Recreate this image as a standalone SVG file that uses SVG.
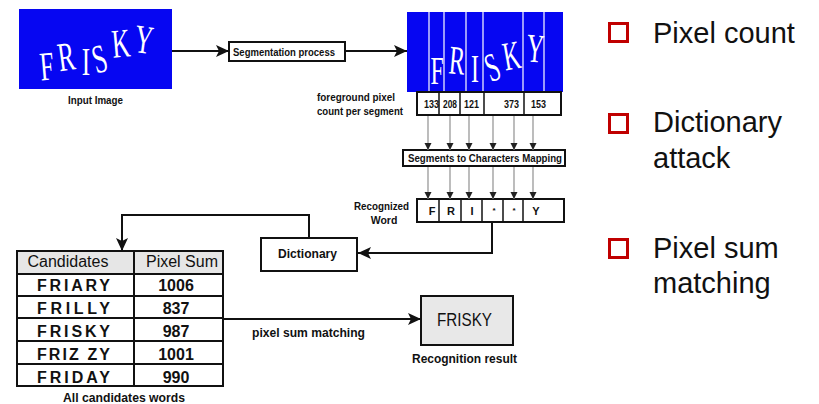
<svg xmlns="http://www.w3.org/2000/svg" width="819" height="404" viewBox="0 0 819 404">
  <style>
    .lbl { font-family: "Liberation Sans Narrow", "Liberation Sans", sans-serif; font-weight: bold; fill: #111; }
    .box { fill: #fff; stroke: #111; stroke-width: 2; }
    .gbox { fill: #e8e8e8; stroke: #111; stroke-width: 2; }
    .img { fill: #0606f2; }
    .hand { font-family: "Liberation Serif", serif; font-size: 28px; fill: #fff; text-anchor: middle; }
    .cell { fill: none; stroke: #111; stroke-width: 2; }
    .word { font-family: "Liberation Sans", sans-serif; font-weight: bold; font-size: 16px; fill: #111; }
    .num { font-family: "Liberation Sans Narrow", "Liberation Sans", sans-serif; font-weight: bold; font-size: 16px; fill: #111; text-anchor: middle; }
    .hdr { font-family: "Liberation Sans", sans-serif; font-size: 16px; fill: #111; text-anchor: middle; }
    .wire { fill: none; stroke: #111; stroke-width: 2; }
    .thin { fill: none; stroke: #999; stroke-width: 1.3; }
    .bul { fill: none; stroke: #c00000; stroke-width: 3; }
    .btxt { font-family: "Liberation Sans", sans-serif; font-size: 29px; fill: #111; }
  </style>
  <defs>
    <marker id="ah" markerUnits="userSpaceOnUse" markerWidth="14" markerHeight="14" viewBox="0 0 14 14" refX="13" refY="7" orient="auto">
      <path d="M0,1 L13,7 L0,13 L3,7 z" fill="#111"/>
    </marker>
    <marker id="as" markerUnits="userSpaceOnUse" markerWidth="8" markerHeight="8" viewBox="0 0 8 8" refX="7" refY="4" orient="auto">
      <path d="M0,0.5 L7,4 L0,7.5 z" fill="#222"/>
    </marker>
  </defs>

  <!-- input captcha image -->
  <g id="input-image">
    <rect class="img" x="19" y="9" width="153" height="80"/>
    <text class="hand" transform="translate(48,80) rotate(-5) scale(0.9,1.45)">F</text>
    <text class="hand" transform="translate(68,70) rotate(-8) scale(0.9,1.45)">R</text>
    <text class="hand" transform="translate(86,75) scale(0.9,1.45)">I</text>
    <text class="hand" transform="translate(103,72) rotate(-15) scale(0.9,1.45)">S</text>
    <text class="hand" transform="translate(122,57) rotate(-5) scale(0.9,1.45)">K</text>
    <text class="hand" transform="translate(142,53) rotate(8) scale(0.9,1.45)">Y</text>
    <text class="lbl" x="68" y="104" font-size="11" textLength="55" lengthAdjust="spacingAndGlyphs">Input Image</text>
  </g>

  <g id="segmentation">
    <rect class="box" x="229" y="42" width="116" height="19"/>
    <text class="lbl" x="233" y="56" font-size="10" textLength="102" lengthAdjust="spacingAndGlyphs">Segmentation process</text>
  </g>

  <!-- segmented image with per-segment counts -->
  <g id="segmented-image">
    <rect class="img" x="407" y="12" width="156" height="80"/>
    <text class="hand" transform="translate(437,84) scale(0.85,1.45)">F</text>
    <text class="hand" transform="translate(456,74) rotate(5) scale(0.85,1.45)">R</text>
    <text class="hand" transform="translate(475,82) scale(0.85,1.45)">I</text>
    <text class="hand" transform="translate(497,80) rotate(-20) scale(0.85,1.45)">S</text>
    <text class="hand" transform="translate(514,69) rotate(-10) scale(0.85,1.45)">K</text>
    <text class="hand" transform="translate(534,62) rotate(5) scale(0.85,1.45)">Y</text>
    <g stroke="#fff" stroke-width="1.2">
      <line x1="429" y1="12" x2="429" y2="92"/>
      <line x1="444" y1="12" x2="444" y2="92"/>
      <line x1="466" y1="12" x2="466" y2="92"/>
      <line x1="483" y1="12" x2="483" y2="92"/>
      <line x1="523" y1="12" x2="523" y2="92"/>
      <line x1="544" y1="12" x2="544" y2="92"/>
    </g>
  </g>

  <g id="pixel-counts">
    <rect class="box" x="417" y="92" width="144" height="23"/>
    <g stroke="#111" stroke-width="1.5">
      <line x1="439" y1="92" x2="439" y2="115"/>
      <line x1="460" y1="92" x2="460" y2="115"/>
      <line x1="484" y1="92" x2="484" y2="115"/>
      <line x1="524" y1="92" x2="524" y2="115"/>
    </g>
    <g class="lbl" font-size="11">
      <text x="424" y="108" textLength="15" lengthAdjust="spacingAndGlyphs">133</text>
      <text x="443" y="108" textLength="14" lengthAdjust="spacingAndGlyphs">208</text>
      <text x="464" y="108" textLength="15" lengthAdjust="spacingAndGlyphs">121</text>
      <text x="504" y="108" textLength="15" lengthAdjust="spacingAndGlyphs">373</text>
      <text x="531" y="108" textLength="15" lengthAdjust="spacingAndGlyphs">153</text>
    </g>
    <text class="lbl" x="317" y="101" font-size="10" textLength="78" lengthAdjust="spacingAndGlyphs">foreground pixel</text>
    <text class="lbl" x="317" y="115" font-size="10" textLength="86" lengthAdjust="spacingAndGlyphs">count per segment</text>
  </g>

  <g id="mapping">
    <rect class="box" x="403" y="150" width="162" height="16"/>
    <text class="lbl" x="408" y="162" font-size="10" textLength="154" lengthAdjust="spacingAndGlyphs">Segments to Characters Mapping</text>
  </g>

  <g id="recognized-word">
    <rect class="box" x="417" y="199" width="147" height="23"/>
    <g stroke="#111" stroke-width="1.5">
      <line x1="439" y1="199" x2="439" y2="222"/>
      <line x1="461" y1="199" x2="461" y2="222"/>
      <line x1="482" y1="199" x2="482" y2="222"/>
      <line x1="503" y1="199" x2="503" y2="222"/>
      <line x1="523" y1="199" x2="523" y2="222"/>
    </g>
    <g class="lbl" font-size="11" text-anchor="middle">
      <text x="432" y="215">F</text>
      <text x="451" y="215">R</text>
      <text x="472" y="215">I</text>
      <text x="494" y="213" font-size="8">*</text>
      <text x="514" y="213" font-size="8">*</text>
      <text x="536" y="215">Y</text>
    </g>
    <text class="lbl" x="409" y="210" font-size="10.5" text-anchor="end" textLength="55" lengthAdjust="spacingAndGlyphs">Recognized</text>
    <text class="lbl" x="384" y="224" font-size="10.5" text-anchor="middle">Word</text>
  </g>

  <g id="dictionary">
    <rect class="box" x="261" y="238" width="96" height="33"/>
    <text class="lbl" x="278" y="258" font-size="12" textLength="59" lengthAdjust="spacingAndGlyphs">Dictionary</text>
  </g>

  <!-- candidate table -->
  <g id="candidates">
    <rect x="17" y="251" width="206" height="23" fill="#e6e6e6"/>
    <rect class="cell" x="17" y="251" width="206" height="135"/>
    <g stroke="#111" stroke-width="2">
      <line x1="17" y1="274" x2="223" y2="274"/>
      <line x1="17" y1="296" x2="223" y2="296"/>
      <line x1="17" y1="318" x2="223" y2="318"/>
      <line x1="17" y1="341" x2="223" y2="341"/>
      <line x1="17" y1="364" x2="223" y2="364"/>
      <line x1="134" y1="251" x2="134" y2="386"/>
    </g>
    <text class="hdr" x="68" y="267">Candidates</text>
    <text class="hdr" x="182" y="267">Pixel Sum</text>
    <g class="word">
      <text x="37" y="291" textLength="73" lengthAdjust="spacing">FRIARY</text>
      <text x="37" y="314" textLength="73" lengthAdjust="spacing">FRILLY</text>
      <text x="37" y="337" textLength="73" lengthAdjust="spacing">FRISKY</text>
      <text x="37" y="360" textLength="73" lengthAdjust="spacing">FRIZ ZY</text>
      <text x="37" y="383" textLength="73" lengthAdjust="spacing">FRIDAY</text>
    </g>
    <g class="num">
      <text x="176" y="291">1006</text>
      <text x="176" y="314">837</text>
      <text x="176" y="337">987</text>
      <text x="176" y="360">1001</text>
      <text x="176" y="383">990</text>
    </g>
    <text class="lbl" x="63" y="402" font-size="12" textLength="122" lengthAdjust="spacingAndGlyphs">All candidates words</text>
  </g>

  <g id="result">
    <rect class="gbox" x="421" y="296" width="92" height="49"/>
    <text x="437" y="326" font-family="Liberation Sans, sans-serif" font-size="18" fill="#111" textLength="55" lengthAdjust="spacingAndGlyphs">FRISKY</text>
    <text class="lbl" x="412" y="363" font-size="12" textLength="105" lengthAdjust="spacingAndGlyphs">Recognition result</text>
  </g>

  <!-- connectors -->
  <g id="connectors">
    <line class="wire" x1="172" y1="51" x2="229" y2="51" marker-end="url(#ah)"/>
    <line class="wire" x1="345" y1="51" x2="407" y2="51" marker-end="url(#ah)"/>
    <g class="thin">
      <line x1="428" y1="116" x2="428" y2="150" marker-end="url(#as)"/>
      <line x1="450" y1="116" x2="450" y2="150" marker-end="url(#as)"/>
      <line x1="469" y1="116" x2="469" y2="150" marker-end="url(#as)"/>
      <line x1="493" y1="116" x2="493" y2="150" marker-end="url(#as)"/>
      <line x1="514" y1="116" x2="514" y2="150" marker-end="url(#as)"/>
      <line x1="533" y1="116" x2="533" y2="150" marker-end="url(#as)"/>
      <line x1="428" y1="167" x2="428" y2="199" marker-end="url(#as)"/>
      <line x1="450" y1="167" x2="450" y2="199" marker-end="url(#as)"/>
      <line x1="469" y1="167" x2="469" y2="199" marker-end="url(#as)"/>
      <line x1="493" y1="167" x2="493" y2="199" marker-end="url(#as)"/>
      <line x1="514" y1="167" x2="514" y2="199" marker-end="url(#as)"/>
      <line x1="533" y1="167" x2="533" y2="199" marker-end="url(#as)"/>
    </g>
    <polyline class="wire" points="492,222 492,253 358,253" marker-end="url(#ah)"/>
    <polyline class="wire" points="309,238 309,215 122,215 122,251" marker-end="url(#ah)"/>
    <line class="wire" x1="224" y1="319" x2="421" y2="319" marker-end="url(#ah)"/>
    <text class="lbl" x="252" y="337" font-size="12" textLength="113" lengthAdjust="spacingAndGlyphs">pixel sum matching</text>
  </g>

  <!-- bullet list -->
  <g id="bullets">
    <rect class="bul" x="609.5" y="23.5" width="18" height="18"/>
    <text class="btxt" x="653" y="43">Pixel count</text>
    <rect class="bul" x="609.5" y="114.5" width="18" height="18"/>
    <text class="btxt" x="653" y="132">Dictionary</text>
    <text class="btxt" x="653" y="168">attack</text>
    <rect class="bul" x="609.5" y="239.5" width="18" height="18"/>
    <text class="btxt" x="653" y="258">Pixel sum</text>
    <text class="btxt" x="653" y="293">matching</text>
  </g>
</svg>
